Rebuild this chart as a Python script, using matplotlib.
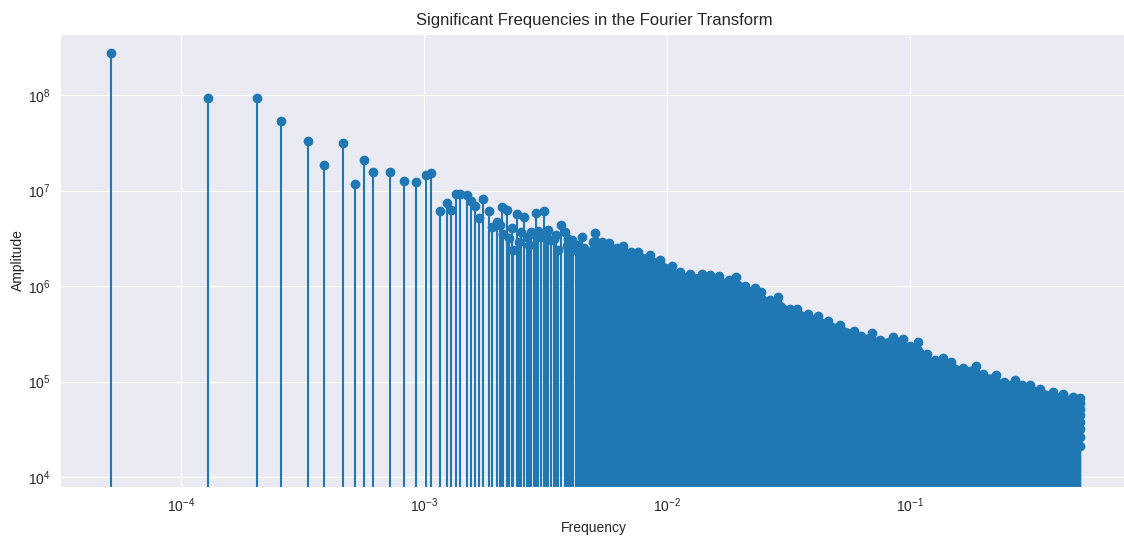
import numpy as np
import matplotlib
matplotlib.use("Agg")
import matplotlib.pyplot as plt
import seaborn as sns

# Low-frequency peaks, each one drawn as its own stem
low_freq = [5.15e-5, 1.29e-4, 2.06e-4, 2.58e-4, 3.33e-4, 3.87e-4, 4.64e-4, 5.18e-4,
            5.67e-4, 6.17e-4, 7.24e-4, 8.28e-4, 9.29e-4, 1.016e-3, 1.066e-3]
low_amp = [2.74e8, 9.4e7, 9.4e7, 5.42e7, 3.29e7, 1.86e7, 3.13e7, 1.18e7,
           2.11e7, 1.58e7, 1.55e7, 1.25e7, 1.22e7, 1.47e7, 1.51e7]

# Mid band, stems getting crowded
mid_freq = [1.164e-3, 1.247e-3, 1.288e-3, 1.354e-3, 1.406e-3, 1.499e-3, 1.557e-3, 1.621e-3,
            1.684e-3, 1.754e-3, 1.857e-3, 1.910e-3, 1.992e-3, 2.055e-3, 2.088e-3, 2.120e-3,
            2.189e-3, 2.240e-3, 2.296e-3, 2.331e-3, 2.407e-3, 2.460e-3, 2.500e-3, 2.579e-3,
            2.646e-3, 2.700e-3, 2.756e-3, 2.836e-3, 2.890e-3, 2.954e-3, 3.030e-3, 3.118e-3,
            3.177e-3, 3.248e-3, 3.330e-3, 3.428e-3, 3.500e-3, 3.571e-3, 3.664e-3, 3.805e-3,
            3.877e-3, 3.926e-3, 3.988e-3, 4.050e-3, 4.115e-3, 4.222e-3, 4.300e-3, 4.380e-3,
            4.482e-3]
mid_amp = [6.1e6, 7.5e6, 6.3e6, 9.1e6, 9.3e6, 8.9e6, 7.8e6, 6.9e6,
           5.1e6, 8.2e6, 6.1e6, 4.2e6, 4.7e6, 4.4e6, 6.65e6, 3.5e6,
           6.3e6, 3.2e6, 4.1e6, 2.4e6, 5.7e6, 2.9e6, 3.7e6, 5.3e6,
           3.3e6, 2.7e6, 3.7e6, 3.5e6, 5.8e6, 3.8e6, 3.3e6, 6.1e6,
           3.6e6, 3.9e6, 3.0e6, 3.1e6, 3.4e6, 2.4e6, 4.4e6, 3.7e6,
           2.6e6, 3.1e6, 2.5e6, 3.0e6, 2.8e6, 2.4e6, 2.7e6, 2.5e6,
           3.3e6]

# High band: every bin is significant, only the top of the comb is listed
high_freq = [4.55e-3, 4.673e-3, 4.975e-3, 5.055e-3, 5.40e-3, 5.78e-3, 6.20e-3, 6.60e-3,
             7.10e-3, 7.62e-3, 8.50e-3, 9.36e-3, 1.045e-2, 1.13e-2, 1.244e-2, 1.39e-2,
             1.50e-2, 1.64e-2, 1.80e-2, 1.92e-2, 2.10e-2, 2.30e-2, 2.44e-2, 2.65e-2,
             2.85e-2, 3.20e-2, 3.43e-2, 3.80e-2, 4.20e-2, 4.60e-2, 5.13e-2, 5.90e-2,
             6.30e-2, 6.95e-2, 7.50e-2, 8.50e-2, 9.33e-2, 0.100, 0.108, 0.117,
             0.127, 0.137, 0.148, 0.166, 0.187, 0.200, 0.225, 0.243,
             0.270, 0.288, 0.312, 0.343, 0.389, 0.427, 0.470, 0.500]
high_amp = [2.5e6, 2.3e6, 2.9e6, 3.6e6, 2.9e6, 2.8e6, 2.5e6, 2.6e6,
            2.3e6, 2.25e6, 2.1e6, 1.86e6, 1.61e6, 1.40e6, 1.35e6, 1.33e6,
            1.29e6, 1.26e6, 1.15e6, 1.24e6, 1.01e6, 9.5e5, 8.6e5, 7.2e5,
            7.65e5, 5.8e5, 5.8e5, 5.1e5, 4.8e5, 4.3e5, 3.9e5, 3.4e5,
            3.0e5, 3.2e5, 2.7e5, 2.96e5, 2.8e5, 2.38e5, 2.58e5, 1.95e5,
            1.66e5, 1.77e5, 1.59e5, 1.39e5, 1.47e5, 1.2e5, 1.18e5, 9.8e4,
            1.04e5, 9.1e4, 9.3e4, 8.4e4, 7.7e4, 7.4e4, 6.9e4, 6.7e4]

# last few bins near Nyquist
tail_freq = [0.4997, 0.4998, 0.4998, 0.4999, 0.4999, 0.5, 0.5]
tail_amp = [6.0e4, 5.2e4, 4.5e4, 3.8e4, 3.2e4, 2.6e4, 2.1e4]

sns.set_style("darkgrid")
plt.rcParams["font.family"] = ["Liberation Sans", "DejaVu Sans"]

fig = plt.figure(figsize=(11.24, 5.36), dpi=100)
ax = fig.add_axes([60 / 1124, 49 / 536, 1068 / 1124, 453.5 / 536])

freqs = np.array(low_freq + mid_freq + high_freq + tail_freq)
amps = np.array(low_amp + mid_amp + high_amp + tail_amp)

# solid block of stems in the high band
ax.fill_between(high_freq, high_amp, 1, color="C0", lw=0, zorder=2)
ax.stem(freqs, amps, basefmt=" ", bottom=1)

ax.set_xscale("log")
ax.set_yscale("log")
ax.set_xlim(3.18e-5, 0.789)
ax.set_ylim(7850, 4.42e8)
ax.set_title("Significant Frequencies in the Fourier Transform", fontsize=12)
ax.set_xlabel("Frequency")
ax.set_ylabel("Amplitude", labelpad=2)

plt.savefig("out.png", dpi=100)
